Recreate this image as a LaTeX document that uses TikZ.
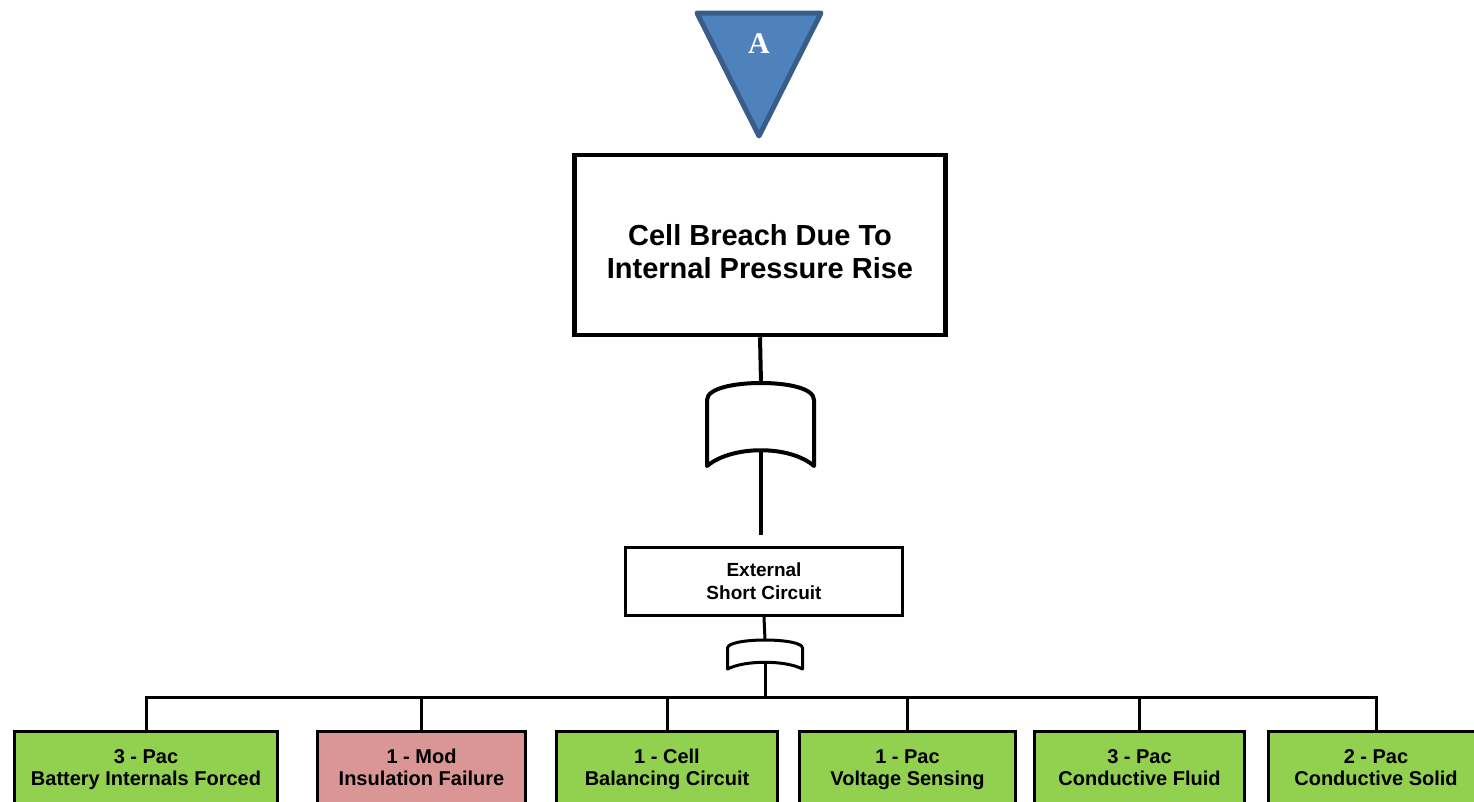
\documentclass[tikz,border=0pt]{standalone}
\usepackage{fontspec}
\setmainfont{Liberation Sans}
\newfontfamily\markfont{Liberation Serif}
\usepackage{tikz}
\definecolor{leafgreen}{HTML}{92D050}
\definecolor{leafred}{HTML}{D99694}
\definecolor{transfill}{HTML}{4F81BD}
\definecolor{transedge}{HTML}{385D8A}

\begin{document}
\begin{tikzpicture}[x=1pt,y=-1pt,
    topevent/.style={draw,line width=4.5pt,minimum width=371pt,minimum height=180pt,inner sep=0pt,text height=66pt,text depth=0pt,align=center,font=\bfseries\fontsize{29}{33}\selectfont},
    midevent/.style={draw,line width=3pt,minimum width=277pt,minimum height=68pt,inner sep=0pt,align=center,font=\bfseries\fontsize{19}{23}\selectfont},
    leaf/.style={draw,line width=3.2pt,fill=leafgreen,anchor=north,minimum height=77pt,inner sep=0pt,text height=37pt,text depth=4.5pt,align=center,font=\bfseries\fontsize{20}{22}\selectfont},
    badleaf/.style={leaf,fill=leafred},
    gate/.style={draw,line width=4pt,line join=round,fill=white},
    wire/.style={draw,line width=3pt}]
          \useasboundingbox (0,0) rectangle (1474,801);
          \clip (0,0) rectangle (1474,801);
          \fill[white] (0,0) rectangle (1474,801);
          % transfer triangle
          \draw[fill=transfill,draw=transedge,line width=5pt,line join=round] (697,13) -- (821,13) -- (759,136) -- cycle;
          \node[text=white,font=\markfont\bfseries\fontsize{30}{30}\selectfont] (mark) at (759,44) {A};
          % top event
          \node[topevent] (top) at (760,245) {Cell Breach Due To\\Internal Pressure Rise};
          % first gate
          \coordinate (orAtop) at (761,383);
          \coordinate (orAbot) at (761,450);
          \draw[wire,line width=4pt] (top.south) -- (orAtop);
          \draw[gate] (707,466) -- (707,400) .. controls (707,388) and (735,383) .. (orAtop) .. controls (787,383) and (814,388) .. (814,400) -- (814,466) .. controls (790,445) and (732,445) .. cycle;
          % middle event
          \node[midevent] (ext) at (764,581.5) {External\\Short Circuit};
          \draw[wire,line width=4pt,shorten >=11pt] (orAbot) -- (orAbot |- ext.north);
          % second gate
          \coordinate (orBtop) at (765,640);
          \coordinate (orBbot) at (765,662);
          \draw[wire] (ext.south) -- (orBtop);
          \draw[gate,line width=3pt] (727.5,669) -- (727.5,648) .. controls (727.5,643) and (745,640) .. (orBtop) .. controls (785,640) and (802.5,643) .. (802.5,648) -- (802.5,669) .. controls (785,660) and (745,660) .. cycle;
          % basic events
          \node[leaf,minimum width=263pt] (b1) at (146,729.5) {3 - Pac\\Battery Internals Forced};
          \node[badleaf,minimum width=208pt] (b2) at (421.5,729.5) {1 - Mod\\Insulation Failure};
          \node[leaf,minimum width=221pt] (b3) at (667,729.5) {1 - Cell\\Balancing Circuit};
          \node[leaf,minimum width=216pt] (b4) at (907.5,729.5) {1 - Pac\\Voltage Sensing};
          \node[leaf,minimum width=210pt] (b5) at (1139.5,729.5) {3 - Pac\\Conductive Fluid};
          \node[leaf,minimum width=215pt] (b6) at (1376,729.5) {2 - Pac\\Conductive Solid};
          % bus between gate and basic events
          \coordinate (bus) at (765,697);
          \draw[wire] (orBbot) -- (bus);
          \draw[wire] (b1.north) |- (bus) -| (b6.north);
          \foreach \n in {b2,b3,b4,b5}
            \draw[wire] (\n.north) -- (\n.north |- bus);
        \end{tikzpicture}
\end{document}
